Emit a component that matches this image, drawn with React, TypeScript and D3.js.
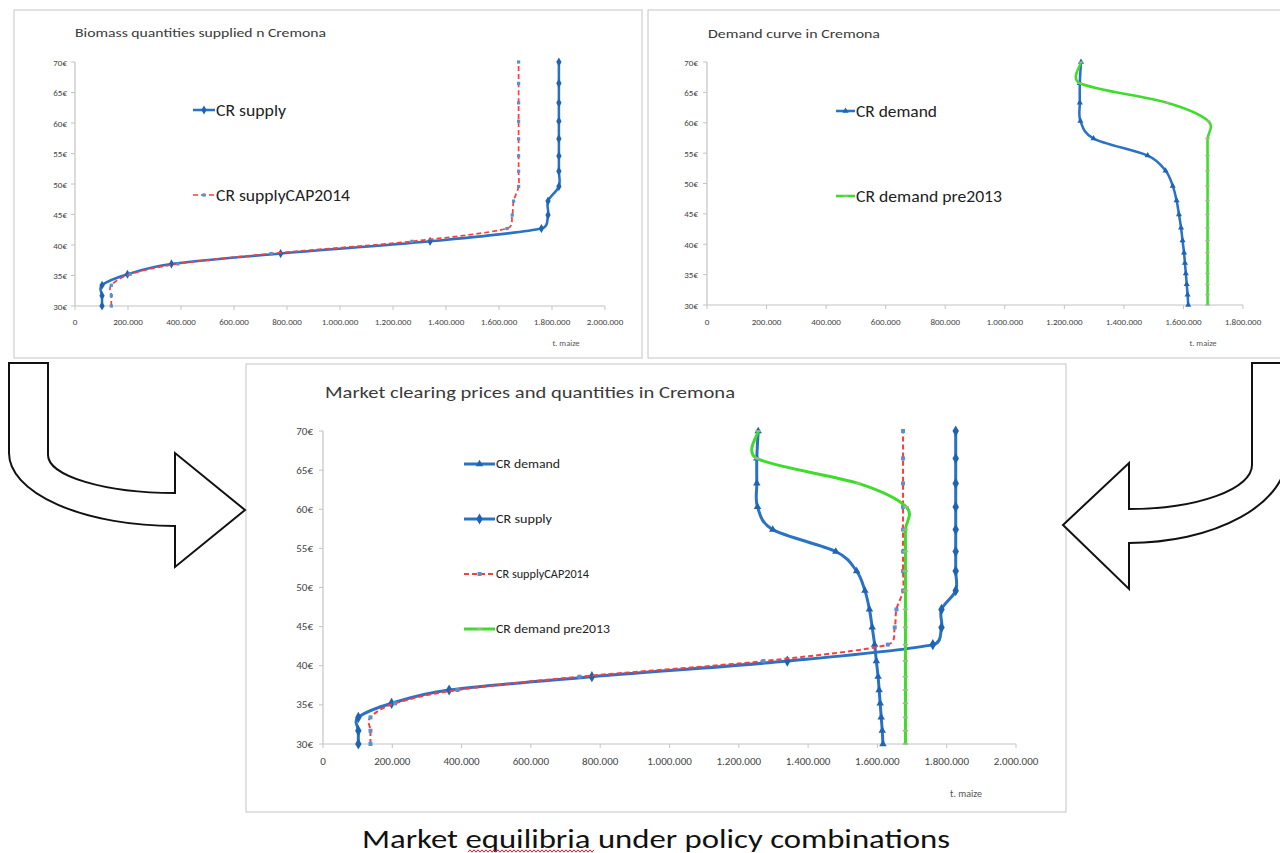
import React from "react";
import * as d3 from "d3";

// ---- data (t. maize per price level, €/t) ----
const PRICES = [30, 31.7, 33.4, 35.2, 36.9, 38.6, 40.6, 42.7, 44.9, 47.2, 49.6, 52.1, 54.6, 57.4, 60.3, 63.3, 66.5, 70];
const CR_SUPPLY = [102000, 102000, 102000, 198000, 364000, 776000, 1340000, 1760000, 1785000, 1785000, 1826000, 1826000, 1826000, 1826000, 1826000, 1826000, 1826000, 1826000];
const CR_SUPPLY_CAP2014 = [137000, 137000, 137000, 208000, 388000, 740000, 1271000, 1630000, 1650000, 1655000, 1674000, 1674000, 1674000, 1674000, 1674000, 1674000, 1674000, 1674000];
const CR_DEMAND = [1616000, 1614000, 1611000, 1608000, 1605000, 1602000, 1597000, 1592000, 1585000, 1577000, 1564000, 1540000, 1480000, 1298000, 1254000, 1252000, 1252000, 1256000];
const CR_DEMAND_PRE2013 = [1681000, 1681000, 1681000, 1681000, 1681000, 1681000, 1681000, 1681000, 1681000, 1681000, 1681000, 1681000, 1681000, 1681000, 1683000, 1545000, 1252000, 1256000];

const Y_TICKS = [30, 35, 40, 45, 50, 55, 60, 65, 70];
const X_TICKS_2M = [0, 200000, 400000, 600000, 800000, 1000000, 1200000, 1400000, 1600000, 1800000, 2000000];
const X_TICKS_18 = [0, 200000, 400000, 600000, 800000, 1000000, 1200000, 1400000, 1600000, 1800000];

const LABEL_DEMAND = "CR demand";
const LABEL_SUPPLY = "CR supply";
const LABEL_CAP = "CR supplyCAP2014";
const LABEL_PRE = "CR demand pre2013";

const FONT = "Carlito, Lato, 'Open Sans', sans-serif";
const BLUE = "#2a72c6";
const RED = "#ff3b3b";
const GREEN = "#3fdc2c";

const fmtX = d3.formatLocale({ decimal: ",", thousands: ".", grouping: [3], currency: ["", "€"] }).format(",d");

type Series = { label: string; values: number[]; color: string; width: number; dash?: string; marker: string; markerColor: string };

const SERIES: Record<string, Series> = {
  demand: { label: LABEL_DEMAND, values: CR_DEMAND, color: BLUE, width: 3, marker: "triangle", markerColor: "#1f64b4" },
  supply: { label: LABEL_SUPPLY, values: CR_SUPPLY, color: BLUE, width: 3, marker: "diamond", markerColor: "#1f64b4" },
  cap: { label: LABEL_CAP, values: CR_SUPPLY_CAP2014, color: RED, width: 2, dash: "5,3", marker: "square", markerColor: "#5b8fd0" },
  pre: { label: LABEL_PRE, values: CR_DEMAND_PRE2013, color: GREEN, width: 3, marker: "dash", markerColor: "#a8b496" },
};

// Excel-like smoothing: Catmull-Rom tangents, clamped to half of the segment length
function smoothPath(pts: [number, number][]) {
  const p = d3.path();
  const n = pts.length;
  p.moveTo(pts[0][0], pts[0][1]);
  const k = 0.5;
  for (let i = 0; i < n - 1; i++) {
    const p0 = pts[Math.max(0, i - 1)];
    const p1 = pts[i];
    const p2 = pts[i + 1];
    const p3 = pts[Math.min(n - 1, i + 2)];
    const seg = Math.hypot(p2[0] - p1[0], p2[1] - p1[1]);
    let ax = (p2[0] - p0[0]) / 6;
    let ay = (p2[1] - p0[1]) / 6;
    let la = Math.hypot(ax, ay);
    if (la > k * seg && la > 0) {
      ax *= (k * seg) / la;
      ay *= (k * seg) / la;
    }
    let bx = (p3[0] - p1[0]) / 6;
    let by = (p3[1] - p1[1]) / 6;
    let lb = Math.hypot(bx, by);
    if (lb > k * seg && lb > 0) {
      bx *= (k * seg) / lb;
      by *= (k * seg) / lb;
    }
    p.bezierCurveTo(p1[0] + ax, p1[1] + ay, p2[0] - bx, p2[1] - by, p2[0], p2[1]);
  }
  return p.toString();
}

function Marker({ type, x, y, s, color }: { type: string; x: number; y: number; s: number; color: string }) {
  if (type === "diamond") {
    return <path d={d3.symbol(d3.symbolDiamond, 30 * s * s)() as string} transform={`translate(${x},${y})`} fill={color} />;
  }
  if (type === "triangle") {
    return <path d={d3.symbol(d3.symbolTriangle, 20 * s * s)() as string} transform={`translate(${x},${y})`} fill={color} />;
  }
  if (type === "square") {
    const h = 1.8 * s;
    return <rect x={x - h} y={y - h} width={2 * h} height={2 * h} fill={color} />;
  }
  return <line x1={x - 2.5 * s} x2={x + 2.5 * s} y1={y} y2={y} stroke={color} strokeWidth={1.5 * s} />;
}

type ChartProps = {
  frame: { x: number; y: number; w: number; h: number };
  plot: { x0: number; x1: number; y0: number; y1: number };
  xMax: number;
  xTicks: number[];
  title: { text: string; x: number; y: number; size: number; len: number };
  legend: { x0: number; x1: number; ys: number[]; size: number; lens: number[] };
  unit: { x: number; y: number; size: number };
  axisFont: number;
  xLabelY: number;
  yLabelRight: number;
  series: Series[];
  lw: number;
  ms: number;
};

function Chart(p: ChartProps) {
  const x = d3.scaleLinear().domain([0, p.xMax]).range([p.plot.x0, p.plot.x1]);
  const y = d3.scaleLinear().domain([30, 70]).range([p.plot.y0, p.plot.y1]);
  const line = (vals: number[]) => smoothPath(vals.map((v, i) => [x(v), y(PRICES[i])] as [number, number]));
  return (
    <g>
      <rect x={p.frame.x} y={p.frame.y} width={p.frame.w} height={p.frame.h} fill="#fff" stroke="#cfcfcf" strokeWidth={1.2} />
      <text x={p.title.x} y={p.title.y} fontSize={p.title.size} fill="#3a3a3a" dominantBaseline="central" textLength={p.title.len} lengthAdjust="spacingAndGlyphs">
        {p.title.text}
      </text>
      {/* axes */}
      <line x1={p.plot.x0} x2={p.plot.x0} y1={p.plot.y1} y2={p.plot.y0} stroke="#c4c4c4" strokeWidth={1.2} />
      <line x1={p.plot.x0} x2={p.plot.x1} y1={p.plot.y0} y2={p.plot.y0} stroke="#c4c4c4" strokeWidth={1.2} />
      {p.xTicks.map((t) => (
        <g key={"x" + t}>
          <line x1={x(t)} x2={x(t)} y1={p.plot.y0} y2={p.plot.y0 + 4} stroke="#c4c4c4" />
          <text x={x(t)} y={p.xLabelY} fontSize={p.axisFont} fill="#444" textAnchor="middle" dominantBaseline="central">
            {fmtX(t)}
          </text>
        </g>
      ))}
      {Y_TICKS.map((t) => (
        <g key={"y" + t}>
          <line x1={p.plot.x0 - 4} x2={p.plot.x0} y1={y(t)} y2={y(t)} stroke="#c4c4c4" />
          <text x={p.yLabelRight} y={y(t)} fontSize={p.axisFont} fill="#444" textAnchor="end" dominantBaseline="central">
            {t}€
          </text>
        </g>
      ))}
      <text x={p.unit.x} y={p.unit.y} fontSize={p.unit.size} fill="#555" textAnchor="middle" dominantBaseline="central">
        t. maize
      </text>
      {/* series */}
      {p.series.map((s) => (
        <g key={s.label}>
          <path d={line(s.values)} fill="none" stroke={s.color} strokeWidth={s.width * p.lw} strokeDasharray={s.dash} strokeLinejoin="round" />
          {s.values.map((v, i) => (
            <Marker key={i} type={s.marker} x={x(v)} y={y(PRICES[i])} s={p.ms} color={s.markerColor} />
          ))}
        </g>
      ))}
      {/* legend */}
      {p.series.map((s, i) => (
        <g key={"lg" + s.label}>
          <line x1={p.legend.x0} x2={p.legend.x1} y1={p.legend.ys[i]} y2={p.legend.ys[i]} stroke={s.color} strokeWidth={s.width * p.lw} strokeDasharray={s.dash} />
          <Marker type={s.marker} x={(p.legend.x0 + p.legend.x1) / 2} y={p.legend.ys[i]} s={p.ms} color={s.markerColor} />
          <text x={p.legend.x1 + 1} y={p.legend.ys[i]} fontSize={p.legend.size} fill="#222" dominantBaseline="central" textLength={p.legend.lens[i]} lengthAdjust="spacingAndGlyphs">
            {s.label}
          </text>
        </g>
      ))}
    </g>
  );
}

function squiggle(x0: number, x1: number, yy: number) {
  const pts: [number, number][] = d3.range(x0, x1 + 0.1, 2).map((xx, i) => [xx, yy + (i % 2 ? -1.2 : 1.2)]);
  return d3.line()(pts) as string;
}

export default function App() {
  return (
    <svg width={1280} height={853} style={{ position: "absolute", left: 0, top: 0, fontFamily: FONT }}>
      <rect width={1280} height={853} fill="#fff" />
      <Chart
        frame={{ x: 14, y: 10, w: 628, h: 348 }}
        plot={{ x0: 75, x1: 605, y0: 306, y1: 62 }}
        xMax={2000000}
        xTicks={X_TICKS_2M}
        title={{ text: "Biomass quantities supplied n Cremona", x: 75, y: 32, size: 12.5, len: 251 }}
        legend={{ x0: 193, x1: 215, ys: [110, 195], size: 16, lens: [70, 134] }}
        unit={{ x: 566, y: 343, size: 8.5 }}
        axisFont={9}
        xLabelY={321}
        yLabelRight={67}
        series={[SERIES.supply, SERIES.cap]}
        lw={0.85}
        ms={0.9}
      />
      <Chart
        frame={{ x: 648, y: 10, w: 640, h: 348 }}
        plot={{ x0: 707, x1: 1243, y0: 305, y1: 62 }}
        xMax={1800000}
        xTicks={X_TICKS_18}
        title={{ text: "Demand curve in Cremona", x: 708, y: 33, size: 12.5, len: 172 }}
        legend={{ x0: 836, x1: 855, ys: [111, 196], size: 16, lens: [81, 146] }}
        unit={{ x: 1203, y: 343, size: 8.5 }}
        axisFont={9}
        xLabelY={321}
        yLabelRight={698}
        series={[SERIES.demand, SERIES.pre]}
        lw={0.85}
        ms={0.9}
      />
      <Chart
        frame={{ x: 246, y: 364, w: 820, h: 448 }}
        plot={{ x0: 323, x1: 1016, y0: 744, y1: 431 }}
        xMax={2000000}
        xTicks={X_TICKS_2M}
        title={{ text: "Market clearing prices and quantities in Cremona", x: 325, y: 392, size: 16, len: 410 }}
        legend={{ x0: 464, x1: 495, ys: [464, 519, 574, 629], size: 12, lens: [64, 56, 93, 114] }}
        unit={{ x: 966, y: 793, size: 10 }}
        axisFont={11}
        xLabelY={761}
        yLabelRight={313}
        series={[SERIES.demand, SERIES.supply, SERIES.cap, SERIES.pre]}
        lw={1}
        ms={1.1}
      />
      {/* arrows */}
      <path
        d="M9,363 L48,363 L48,455 A127,38 0 0 0 175,493 L175,453 L245,510 L175,567 L175,526 A166,73 0 0 1 9,453 Z"
        fill="#fff"
        stroke="#111"
        strokeWidth={2}
        strokeLinejoin="miter"
      />
      <path
        d="M1290,363 L1252,363 L1252,465 A123,44 0 0 1 1129,509 L1129,463 L1063,525 L1129,589 L1129,543 A158,88 0 0 0 1287,455 L1290,455 Z"
        fill="#fff"
        stroke="#111"
        strokeWidth={2}
        strokeLinejoin="miter"
      />
      <text x={656} y={838} fontSize={27} fill="#111" textAnchor="middle" dominantBaseline="central" textLength={588} lengthAdjust="spacingAndGlyphs">
        Market equilibria under policy combinations
      </text>
      <path d={squiggle(468, 594, 851)} fill="none" stroke="#e0202a" strokeWidth={1} />
    </svg>
  );
}
